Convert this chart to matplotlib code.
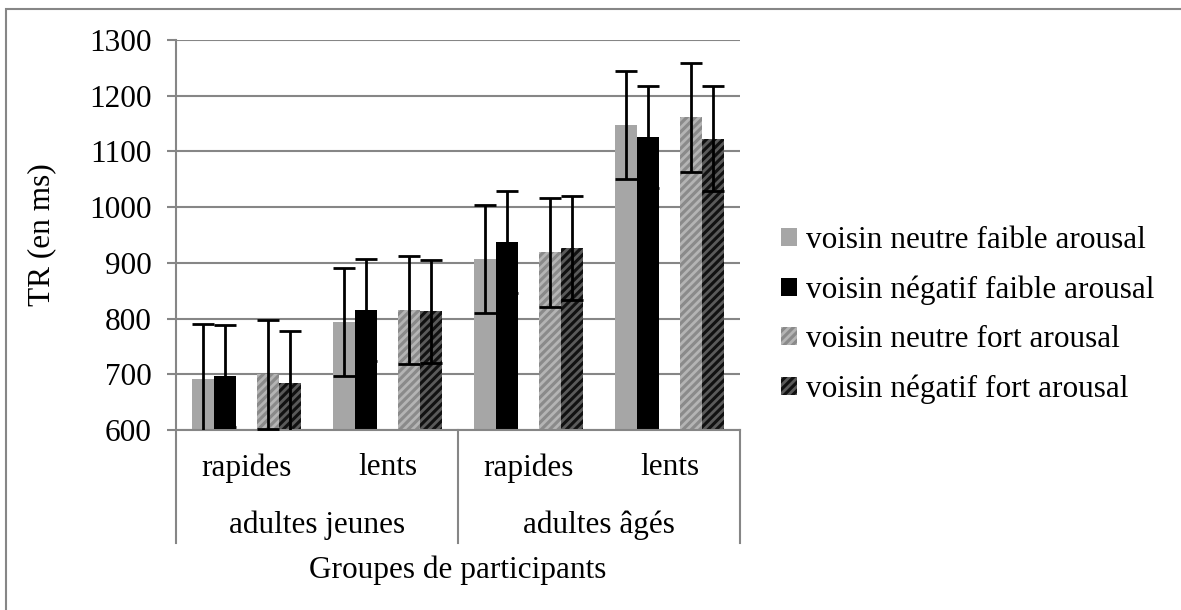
import numpy as np
import matplotlib
matplotlib.use("Agg")
import matplotlib.pyplot as plt
from matplotlib.patches import Rectangle
from matplotlib.lines import Line2D
import matplotlib.transforms as mtransforms

plt.rcParams['font.family'] = ['Liberation Serif', 'DejaVu Serif']
plt.rcParams['hatch.linewidth'] = 2.0

# data
sub_groups = ["rapides", "lents", "rapides", "lents"]
main_groups = ["adultes jeunes", "adultes âgés"]
series_names = ["voisin neutre faible arousal",
                "voisin négatif faible arousal",
                "voisin neutre fort arousal",
                "voisin négatif fort arousal"]
neutre_faible = [692, 794, 907, 1148]
negatif_faible = [697, 815, 937, 1126]
neutre_fort = [700, 815, 919, 1161]
negatif_fort = [684, 813, 927, 1123]
err_neutre_faible = [98, 97, 97, 97]
err_negatif_faible = [92, 92, 92, 91]
err_neutre_fort = [98, 97, 98, 98]
err_negatif_fort = [93, 92, 93, 94]
yticks = [600, 700, 800, 900, 1000, 1100, 1200, 1300]

grey = "#868686"
fs = 22.5

fig = plt.figure(figsize=(11.81, 6.10), dpi=100)
ax = fig.add_axes([176 / 1181, 1 - 430 / 610, (740 - 176) / 1181, 390 / 610])

x = np.arange(len(sub_groups))
w = 0.156
values = [neutre_faible, negatif_faible, neutre_fort, negatif_fort]
errors = [err_neutre_faible, err_negatif_faible, err_neutre_fort, err_negatif_fort]
offsets = [-2 * w, -w, w, 2 * w]
faces = ["#a6a6a6", "#000000", "#8a8a8a", "#111111"]
hatch_cols = ["#a6a6a6", "#000000", "#b4b4b4", "#5a5a5a"]
hatches = [None, None, "////", "////"]

handles = []
for vals, errs, off, fc, hc, h, name in zip(values, errors, offsets, faces,
                                           hatch_cols, hatches, series_names):
    bars = ax.bar(x + off, vals, width=w, bottom=0, color=fc, edgecolor=hc,
                  hatch=h, linewidth=0, zorder=2, label=name)
    ax.errorbar(x + off, vals, yerr=errs, fmt="none", ecolor="black",
                elinewidth=2, capsize=8, capthick=2, zorder=3)
    handles.append(bars)

ax.set_ylim(600, 1300)
ax.set_xlim(-0.5, 3.5)
ax.set_yticks(yticks)
ax.yaxis.grid(True, color=grey, linewidth=1.5, zorder=0)
ax.set_axisbelow(True)
ax.tick_params(axis="y", direction="out", length=6.5, width=1.5, color=grey,
               labelsize=fs, pad=11)
ax.tick_params(axis="x", bottom=False, labelbottom=False)
for s in ["top", "right", "left"]:
    ax.spines[s].set_visible(False)
ax.spines["bottom"].set_color(grey)
ax.spines["bottom"].set_linewidth(1.5)

ax.set_ylabel("TR (en ms)", fontsize=fs, labelpad=24)

# category axis with two levels
low = -(543 - 430) / 390
ax.add_line(Line2D([0, 0], [1, low], transform=ax.transAxes, color=grey,
                   lw=1.5, clip_on=False))
for xs in [0.5, 1.0]:
    ax.add_line(Line2D([xs, xs], [0, low], transform=ax.transAxes, color=grey,
                       lw=1.5, clip_on=False))

trans = mtransforms.blended_transform_factory(ax.transData, ax.transAxes)
for xi, lab in zip(x, sub_groups):
    ax.text(xi, -0.097, lab, transform=trans, ha="center", va="center", fontsize=fs)
for xi, lab in zip([0.5, 2.5], main_groups):
    ax.text(xi, -0.244, lab, transform=trans, ha="center", va="center", fontsize=fs)
ax.text(0.5, -0.36, "Groupes de participants", transform=ax.transAxes,
        ha="center", va="center", fontsize=fs)

fig.legend(handles=handles, loc="center left",
           bbox_to_anchor=(753 / 1181, 1 - 315 / 610), frameon=False,
           fontsize=fs, handlelength=0.5, handleheight=0.5,
           handletextpad=0.3, labelspacing=0.65)

# outer chart border
fig.add_artist(Rectangle((6 / 1181, -0.1), 1.2, 1 - 9 / 610 + 0.1,
                         transform=fig.transFigure, fill=False,
                         edgecolor=grey, linewidth=1.5))

fig.savefig("out.png", dpi=100)
